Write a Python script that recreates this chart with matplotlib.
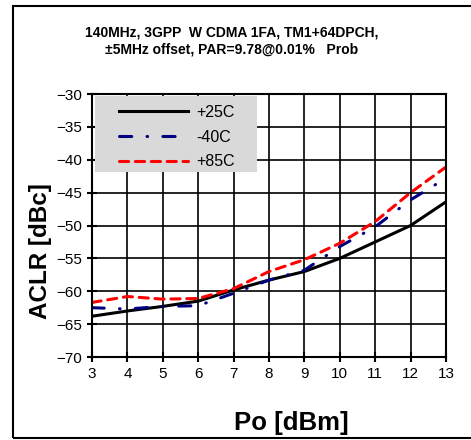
import matplotlib
matplotlib.use("Agg")
import matplotlib.pyplot as plt
from matplotlib.patches import Rectangle

plt.rcParams.update({
    "font.family": ["Liberation Sans", "DejaVu Sans"],
    "font.size": 10,
})

# Data
po_dbm = [3, 4, 5, 6, 7, 8, 9, 10, 11, 12, 13]
aclr_p25 = [-63.8, -63.0, -62.3, -61.5, -59.8, -58.3, -57.0, -55.0, -52.5, -50.0, -46.4]
aclr_m40 = [-62.5, -62.7, -62.3, -62.2, -60.3, -58.3, -56.8, -53.2, -50.2, -46.1, -42.8]
aclr_p85 = [-61.7, -60.8, -61.2, -61.1, -59.6, -57.0, -55.2, -52.7, -49.4, -45.0, -41.1]
labels = ["+25C", "-40C", "+85C"]

title = "140MHz, 3GPP  W CDMA 1FA, TM1+64DPCH,\n\u00b15MHz offset, PAR=9.78@0.01%   Prob"

fig = plt.figure(figsize=(4.71, 4.40), dpi=100)
ax = fig.add_axes([92 / 471, 1 - 357 / 440, 354 / 471, 263 / 440])

# outer frame (right edge falls outside the picture)
fig.patches.append(Rectangle((13 / 471, 2 / 440), 1.2, 432 / 440,
                             transform=fig.transFigure, fill=False,
                             edgecolor="black", linewidth=1.5))

ax.plot(po_dbm, aclr_p25, color="black", lw=2.2, label=labels[0])
ax.plot(po_dbm, aclr_m40, color="#000080", lw=2.2, ls=(0, (4.0, 5.0, 0.2, 5.0)),
        dash_capstyle="round", label=labels[1])
ax.plot(po_dbm, aclr_p85, color="#ff0000", lw=2.2, ls=(0, (3.0, 2.2)),
        dash_capstyle="round", label=labels[2])

ax.set_xlim(3, 13)
ax.set_ylim(-70, -30)
ax.set_xticks(range(3, 14))
ax.set_yticks(range(-70, -29, 5))
ax.grid(True, color="black", lw=1.2)
ax.set_axisbelow(True)
for s in ax.spines.values():
    s.set_linewidth(1.5)
ax.tick_params(direction="inout", length=7, width=1.5, labelsize=11)

ax.set_xlabel("Po [dBm]", fontsize=18.5, fontweight="bold", labelpad=22)
ax.set_ylabel("ACLR [dBc]", fontsize=17.5, fontweight="bold", labelpad=3)
# labels sit off-centre in the reference
ax.xaxis.label.set_x(199.5 / 354)
ax.yaxis.label.set_y(105.5 / 263)
fig.text(232 / 471, 1 - 41 / 440, title, ha="center", va="center",
         fontsize=10, fontweight="bold", linespacing=1.35)

# gray legend box
ax.add_patch(Rectangle((3 / 354, 185 / 263), 162 / 354, 76 / 263,
                       transform=ax.transAxes, facecolor="#d9d9d9",
                       edgecolor="none", zorder=2.5))
leg = ax.legend(loc="upper left", bbox_to_anchor=(27 / 354, 252 / 263), borderaxespad=0,
                borderpad=0, frameon=False, fontsize=11.5, handlelength=4.3,
                handletextpad=0.55, labelspacing=0.6)
leg.set_zorder(3)

fig.savefig("out.png", dpi=100)
